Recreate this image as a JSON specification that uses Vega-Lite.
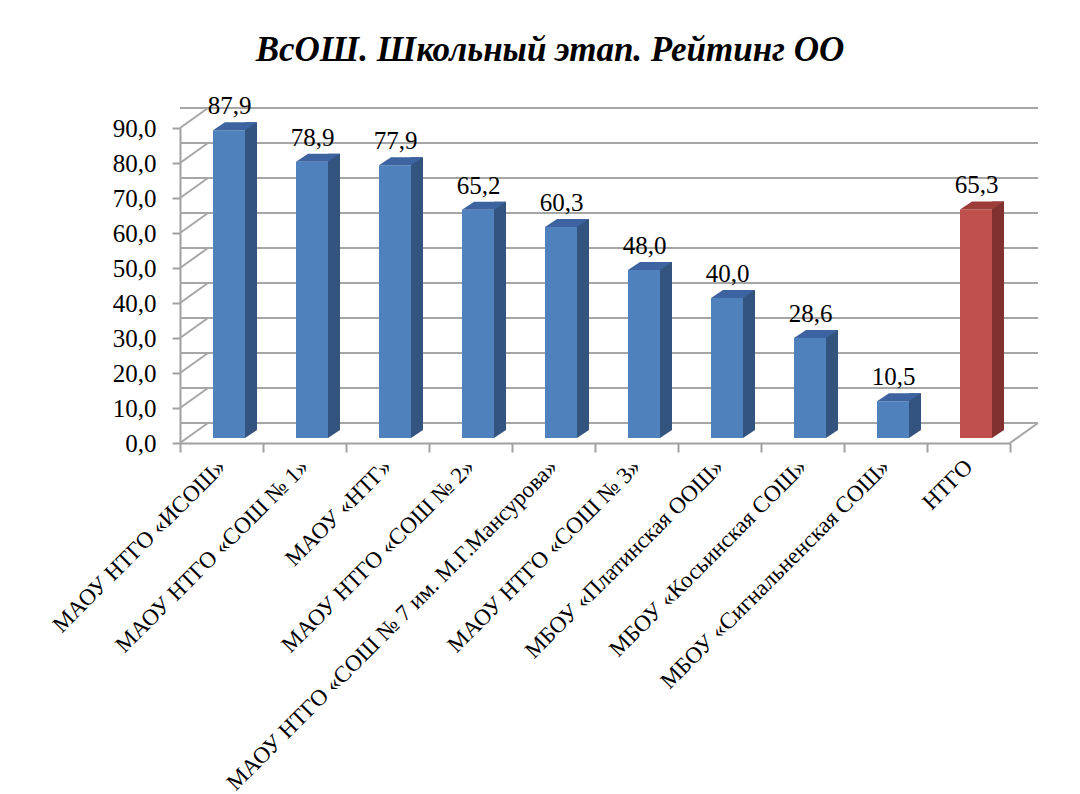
{
  "$schema": "https://vega.github.io/schema/vega-lite/v6.json",
  "width": 830,
  "height": 315,
  "autosize": {"type": "none"},
  "padding": {"left": 180, "top": 128, "right": 70, "bottom": 351},
  "background": "white",
  "title": {
    "text": "ВсОШ. Школьный этап. Рейтинг ОО",
    "font": "Liberation Serif",
    "fontSize": 35,
    "fontWeight": "bold",
    "fontStyle": "italic",
    "color": "#000000",
    "anchor": "middle",
    "frame": "group",
    "dx": -45,
    "offset": -2,
    "baseline": "alphabetic"
  },
  "datasets": {
    "schools": [
      {"school": "МАОУ НТГО «ИСОШ»", "value": 87.9},
      {"school": "МАОУ НТГО «СОШ № 1»", "value": 78.9},
      {"school": "МАОУ «НТГ»", "value": 77.9},
      {"school": "МАОУ НТГО «СОШ № 2»", "value": 65.2},
      {"school": "МАОУ НТГО «СОШ № 7 им. М.Г.Мансурова»", "value": 60.3},
      {"school": "МАОУ НТГО «СОШ № 3»", "value": 48.0},
      {"school": "МБОУ «Платинская ООШ»", "value": 40.0},
      {"school": "МБОУ «Косьинская СОШ»", "value": 28.6},
      {"school": "МБОУ «Сигнальненская СОШ»", "value": 10.5},
      {"school": "НТГО", "value": 65.3}
    ],
    "gridvals": [
      {"v": 0}, {"v": 10}, {"v": 20}, {"v": 30}, {"v": 40},
      {"v": 50}, {"v": 60}, {"v": 70}, {"v": 80}, {"v": 90}
    ]
  },
  "data": {"name": "schools"},
  "layer": [
    {
      "data": {"name": "gridvals"},
      "mark": {"type": "rule", "color": "#a6a6a6", "strokeWidth": 2, "xOffset": 28, "x2Offset": 28, "yOffset": -20},
      "encoding": {
        "y": {
          "field": "v",
          "type": "quantitative",
          "scale": {"domain": [0, 90], "nice": false, "zero": true},
          "axis": {
            "title": null,
            "tickCount": 10,
            "format": ".1f",
            "grid": false,
            "labelOverlap": false,
            "labelSeparation": 0,
            "tickSize": 8,
            "tickColor": "#a0a0a0",
            "tickWidth": 2,
            "domainColor": "#a0a0a0",
            "domainWidth": 2,
            "labelFont": "Liberation Serif",
            "labelFontSize": 25,
            "labelColor": "#000000",
            "labelPadding": 16
          }
        }
      }
    },
    {
      "data": {"name": "gridvals"},
      "mark": {"type": "point", "shape": "M0,0L28,-20", "size": 4, "filled": false, "stroke": "#a6a6a6", "strokeWidth": 2, "opacity": 1},
      "encoding": {
        "x": {"datum": "МАОУ НТГО «ИСОШ»", "bandPosition": 0, "type": "nominal"},
        "y": {"field": "v", "type": "quantitative"}
      }
    },
    {
      "data": {"values": [{"v": 0}]},
      "mark": {"type": "point", "shape": "M0,0L28,-20", "size": 4, "filled": false, "stroke": "#a6a6a6", "strokeWidth": 2, "opacity": 1},
      "encoding": {
        "x": {"datum": "НТГО", "bandPosition": 1, "type": "nominal"},
        "y": {"field": "v", "type": "quantitative"}
      }
    },
    {
      "mark": {"type": "bar", "width": 12, "xOffset": 29.5, "yOffset": -13, "y2Offset": -13},
      "encoding": {
        "x": {"field": "school", "type": "nominal"},
        "y": {"field": "value", "type": "quantitative"},
        "color": {"condition": {"test": "datum.school === 'НТГО'", "value": "#803130"}, "value": "#33547f"}
      }
    },
    {
      "mark": {"type": "point", "shape": "M23.5,-5L35.5,-13L23.5,-13Z", "size": 4, "filled": true, "strokeWidth": 0, "opacity": 1},
      "encoding": {
        "x": {"field": "school", "type": "nominal"},
        "y": {"datum": 0, "type": "quantitative"},
        "color": {"condition": {"test": "datum.school === 'НТГО'", "value": "#803130"}, "value": "#33547f"}
      }
    },
    {
      "mark": {"type": "bar", "width": 32, "xOffset": 7.5, "yOffset": -5, "y2Offset": -5},
      "encoding": {
        "x": {
          "field": "school",
          "type": "nominal",
          "sort": null,
          "scale": {
            "domain": ["МАОУ НТГО «ИСОШ»", "МАОУ НТГО «СОШ № 1»", "МАОУ «НТГ»", "МАОУ НТГО «СОШ № 2»", "МАОУ НТГО «СОШ № 7 им. М.Г.Мансурова»", "МАОУ НТГО «СОШ № 3»", "МБОУ «Платинская ООШ»", "МБОУ «Косьинская СОШ»", "МБОУ «Сигнальненская СОШ»", "НТГО"],
            "paddingInner": 0,
            "paddingOuter": 0
          },
          "axis": {
            "title": null,
            "labelAngle": -45,
            "labelFont": "Liberation Serif",
            "labelFontSize": 23,
            "labelColor": "#000000",
            "labelPadding": 11,
            "labelLimit": 600,
            "labelOverlap": false,
            "tickBand": "extent",
            "tickSize": 9,
            "tickColor": "#a0a0a0",
            "tickWidth": 2,
            "domainColor": "#a0a0a0",
            "domainWidth": 2,
            "grid": false
          }
        },
        "y": {"field": "value", "type": "quantitative"},
        "color": {"condition": {"test": "datum.school === 'НТГО'", "value": "#c0504d"}, "value": "#4f81bd"}
      }
    },
    {
      "mark": {"type": "point", "shape": "M-8.5,-5L23.5,-5L35.5,-13L3.5,-13Z", "size": 4, "filled": true, "strokeWidth": 0, "opacity": 1},
      "encoding": {
        "x": {"field": "school", "type": "nominal"},
        "y": {"field": "value", "type": "quantitative"},
        "color": {"condition": {"test": "datum.school === 'НТГО'", "value": "#9c3d3a"}, "value": "#3d64a0"}
      }
    },
    {
      "mark": {"type": "text", "font": "Liberation Serif", "fontSize": 25, "color": "#000000", "dx": 8, "dy": -21, "baseline": "alphabetic", "align": "center"},
      "encoding": {
        "x": {"field": "school", "type": "nominal"},
        "y": {"field": "value", "type": "quantitative"},
        "text": {"field": "value", "type": "quantitative", "format": ".1f"}
      }
    }
  ],
  "config": {
    "locale": {"number": {"decimal": ",", "thousands": " ", "grouping": [3], "currency": ["", ""]}},
    "axisY": {"labelOverlap": false},
    "view": {"stroke": null}
  }
}
